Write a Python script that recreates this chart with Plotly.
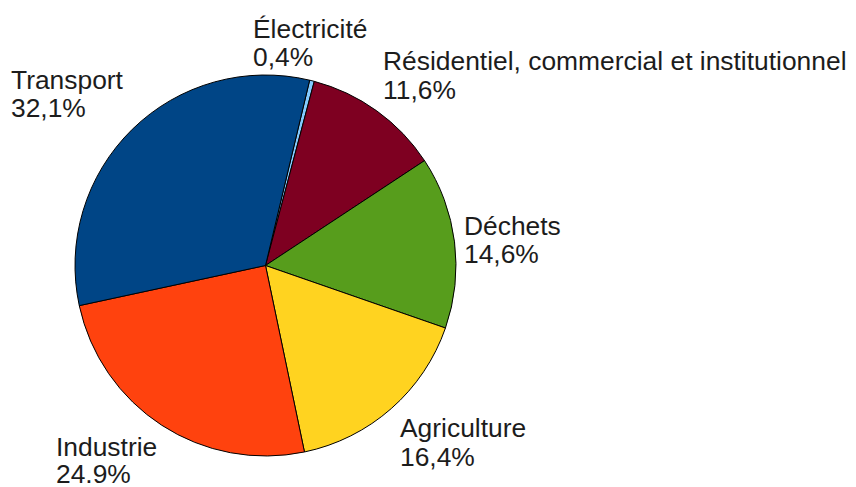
import plotly.graph_objects as go

# The page body has an 8px margin, so the figure is drawn 8px in from the top-left.
OFF = 8
W, H = 856 - OFF, 487 - OFF

# Data (clockwise from the first slice)
sectors = ["Électricité", "Résidentiel, commercial et institutionnel", "Déchets",
           "Agriculture", "Industrie", "Transport"]
shares = [0.4, 11.6, 14.6, 16.4, 24.9, 32.1]
share_text = ["0,4%", "11,6%", "14,6%", "16,4%", "24.9%", "32,1%"]
colors = ["#83caff", "#7e0021", "#579d1c", "#ffd320", "#ff420e", "#004586"]

# label placement (window pixels: left x, cap-middle y of first line, second line)
label_pos = {
    "Électricité": (252, 29, 57),
    "Résidentiel, commercial et institutionnel": (382, 61, 90),
    "Déchets": (463, 226, 254),
    "Agriculture": (399, 428, 457),
    "Industrie": (55, 447, 474),
    "Transport": (10, 80, 108),
}

cx, cy, r = 265.5 - OFF, 265.5 - OFF, 190.5

fig = go.Figure(go.Pie(
    labels=sectors,
    values=shares,
    sort=False,
    direction="clockwise",
    rotation=13.4,
    marker=dict(colors=colors, line=dict(color="#000000", width=1)),
    textinfo="none",
    hoverinfo="none",
    showlegend=False,
    domain=dict(x=[(cx - r) / W, (cx + r) / W], y=[1 - (cy + r) / H, 1 - (cy - r) / H]),
))

font = dict(family="Liberation Sans, Arial, sans-serif", size=26.4, color="#1c1c1c")
annotations = []
for name, txt in zip(sectors, share_text):
    x, y1, y2 = label_pos[name]
    for t, yy in ((name, y1), (txt, y2)):
        annotations.append(dict(
            x=(x - OFF) / W, y=1 - (yy - OFF) / H, xref="paper", yref="paper",
            xanchor="left", yanchor="middle", text=t, showarrow=False,
            font=font, align="left", borderpad=0,
        ))

fig.update_layout(
    width=W, height=H,
    margin=dict(l=0, r=0, t=0, b=0),
    paper_bgcolor="white", plot_bgcolor="white",
    annotations=annotations,
)

fig.write_html("out.html")
